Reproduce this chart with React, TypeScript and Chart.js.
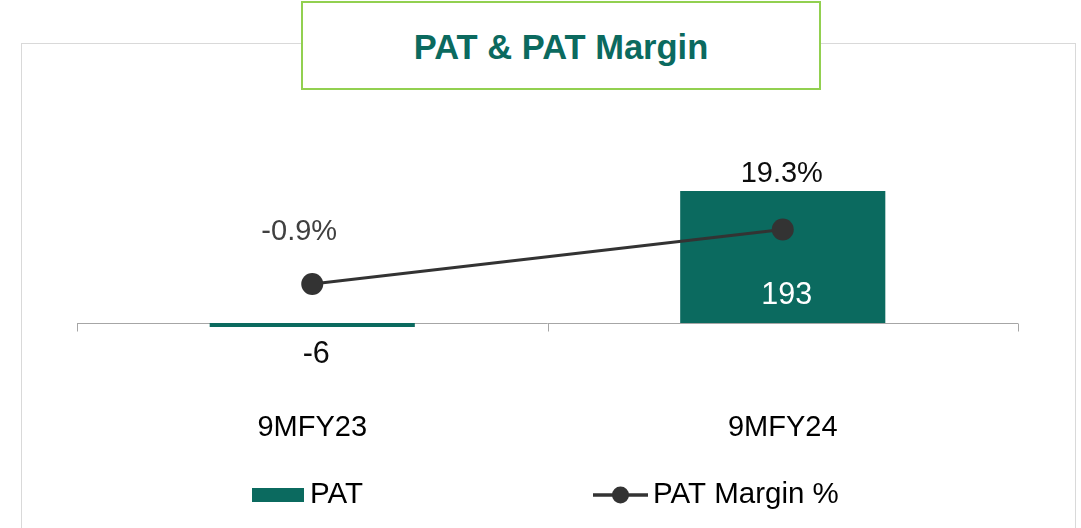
import React, { useEffect, useRef } from "react";
import { Chart, registerables } from "chart.js";

Chart.register(...registerables);

// ---- data ----
const categories = ["9MFY23", "9MFY24"];
const patValues = [-6, 193];
const marginValues = [-0.9, 19.3];
const patLabels = ["-6", "193"];
const marginLabels = ["-0.9%", "19.3%"];
const seriesNames = ["PAT", "PAT Margin %"];
const titleText = "PAT & PAT Margin";

// ---- styles ----
const GREEN = "#0b6a5f";
const LINE = "#333333";
const FONT = "'Liberation Sans', Arial, Helvetica, sans-serif";

const axisPlugin = {
  id: "zeroAxis",
  beforeDatasetsDraw(chart: any) {
    const { ctx, chartArea } = chart;
    const y = Math.round(chart.scales.y.getPixelForValue(0)) + 0.5;
    const xs = chart.scales.x;
    ctx.save();
    ctx.strokeStyle = "#a6a6a6";
    ctx.lineWidth = 1;
    ctx.beginPath();
    ctx.moveTo(chartArea.left, y);
    ctx.lineTo(chartArea.right, y);
    const n = categories.length;
    for (let i = 0; i <= n; i++) {
      const px = Math.round(
        i === 0 ? chartArea.left : i === n ? chartArea.right : (xs.getPixelForValue(i - 1) + xs.getPixelForValue(i)) / 2
      ) + 0.5;
      ctx.moveTo(px, y);
      ctx.lineTo(px, y + 8);
    }
    ctx.stroke();
    ctx.restore();
  },
};

const labelPlugin = {
  id: "valueLabels",
  afterDatasetsDraw(chart: any) {
    const { ctx } = chart;
    ctx.save();
    ctx.textAlign = "center";
    ctx.textBaseline = "middle";
    // bar labels
    const barMeta = chart.getDatasetMeta(0);
    ctx.font = `30.5px ${FONT}`;
    barMeta.data.forEach((bar: any, i: number) => {
      const p = bar.getProps(["x", "y", "base"], true);
      const v = patValues[i];
      const inside = v >= 0;
      const ty = inside ? p.base - 27 : p.base + 32;
      ctx.fillStyle = inside ? "#ffffff" : "#0d0d0d";
      ctx.fillText(patLabels[i], p.x + 4, ty);
    });
    // line labels
    const lineMeta = chart.getDatasetMeta(1);
    ctx.font = `29px ${FONT}`;
    const dx = [-13, -1];
    const dy = [-52, -55];
    const colors = ["#404040", "#0d0d0d"];
    lineMeta.data.forEach((pt: any, i: number) => {
      const p = pt.getProps(["x", "y"], true);
      ctx.fillStyle = colors[i];
      ctx.fillText(marginLabels[i], p.x + dx[i], p.y + dy[i]);
    });
    ctx.restore();
  },
};

const legendPlugin = {
  id: "customLegend",
  afterDraw(chart: any) {
    const { ctx } = chart;
    const ds = chart.data.datasets;
    const cy = 495;
    ctx.save();
    ctx.font = `29.5px ${FONT}`;
    ctx.textBaseline = "middle";
    ctx.textAlign = "left";
    // PAT box
    ctx.fillStyle = ds[0].backgroundColor;
    ctx.fillRect(252, 488, 52, 14);
    ctx.fillStyle = "#000000";
    ctx.fillText(ds[0].label, 310, cy);
    // PAT Margin line marker
    ctx.strokeStyle = ds[1].borderColor;
    ctx.lineWidth = 3.5;
    ctx.beginPath();
    ctx.moveTo(593, cy);
    ctx.lineTo(648, cy);
    ctx.stroke();
    ctx.fillStyle = ds[1].pointBackgroundColor;
    ctx.beginPath();
    ctx.arc(620.5, cy, 8.5, 0, Math.PI * 2);
    ctx.fill();
    ctx.fillStyle = "#000000";
    ctx.fillText(ds[1].label, 653, cy);
    ctx.restore();
  },
};

export default function App() {
  const ref = useRef<HTMLCanvasElement | null>(null);

  useEffect(() => {
    document.body.style.margin = "0";
    if (!ref.current) return;
    const chart = new Chart(ref.current, {
      type: "bar",
      data: {
        labels: categories,
        datasets: [
          {
            type: "bar",
            label: seriesNames[0],
            data: patValues,
            backgroundColor: GREEN,
            borderWidth: 0,
            categoryPercentage: 1,
            barPercentage: 0.436,
            yAxisID: "y",
            order: 2,
          } as any,
          {
            type: "line",
            label: seriesNames[1],
            data: marginValues,
            borderColor: LINE,
            borderWidth: 3,
            pointRadius: 11,
            pointHoverRadius: 11,
            pointBackgroundColor: LINE,
            pointBorderWidth: 0,
            yAxisID: "y1",
            order: 1,
          } as any,
        ],
      },
      options: {
        responsive: false,
        animation: false,
        events: [],
        layout: { padding: { left: 77, right: 63, top: 118, bottom: 83 } },
        plugins: {
          legend: { display: false },
          tooltip: { enabled: false },
          title: { display: false },
        },
        scales: {
          x: {
            type: "category",
            offset: true,
            grid: { display: false, drawTicks: false },
            border: { display: false },
            ticks: {
              font: { family: FONT, size: 29 },
              color: "#000000",
              padding: 6,
            },
            afterFit: (s: any) => {
              s.height = 40;
            },
          },
          y: {
            type: "linear",
            display: false,
            min: -120,
            max: 300,
          },
          y1: {
            type: "linear",
            display: false,
            min: -45.75,
            max: 60.6,
          },
        },
      },
      plugins: [axisPlugin, labelPlugin, legendPlugin],
    });
    return () => chart.destroy();
  }, []);

  return (
    <div
      style={{
        position: "relative",
        width: 1081,
        height: 528,
        overflow: "hidden",
        background: "#ffffff",
        fontFamily: FONT,
      }}
    >
      <div
        style={{
          position: "absolute",
          left: 21,
          top: 43,
          width: 1055,
          height: 600,
          border: "1px solid #d9d9d9",
          boxSizing: "border-box",
        }}
      />
      <canvas
        ref={ref}
        width={1081}
        height={528}
        style={{ position: "absolute", left: 0, top: 0, width: 1081, height: 528 }}
      />
      <div
        style={{
          position: "absolute",
          left: 301,
          top: 1,
          width: 520,
          height: 89,
          border: "2px solid #92d050",
          boxSizing: "border-box",
          background: "#ffffff",
          display: "flex",
          alignItems: "center",
          justifyContent: "center",
          paddingTop: 3,
          color: GREEN,
          fontWeight: "bold",
          fontSize: 34.5,
          whiteSpace: "nowrap",
        }}
      >
        {titleText}
      </div>
    </div>
  );
}
